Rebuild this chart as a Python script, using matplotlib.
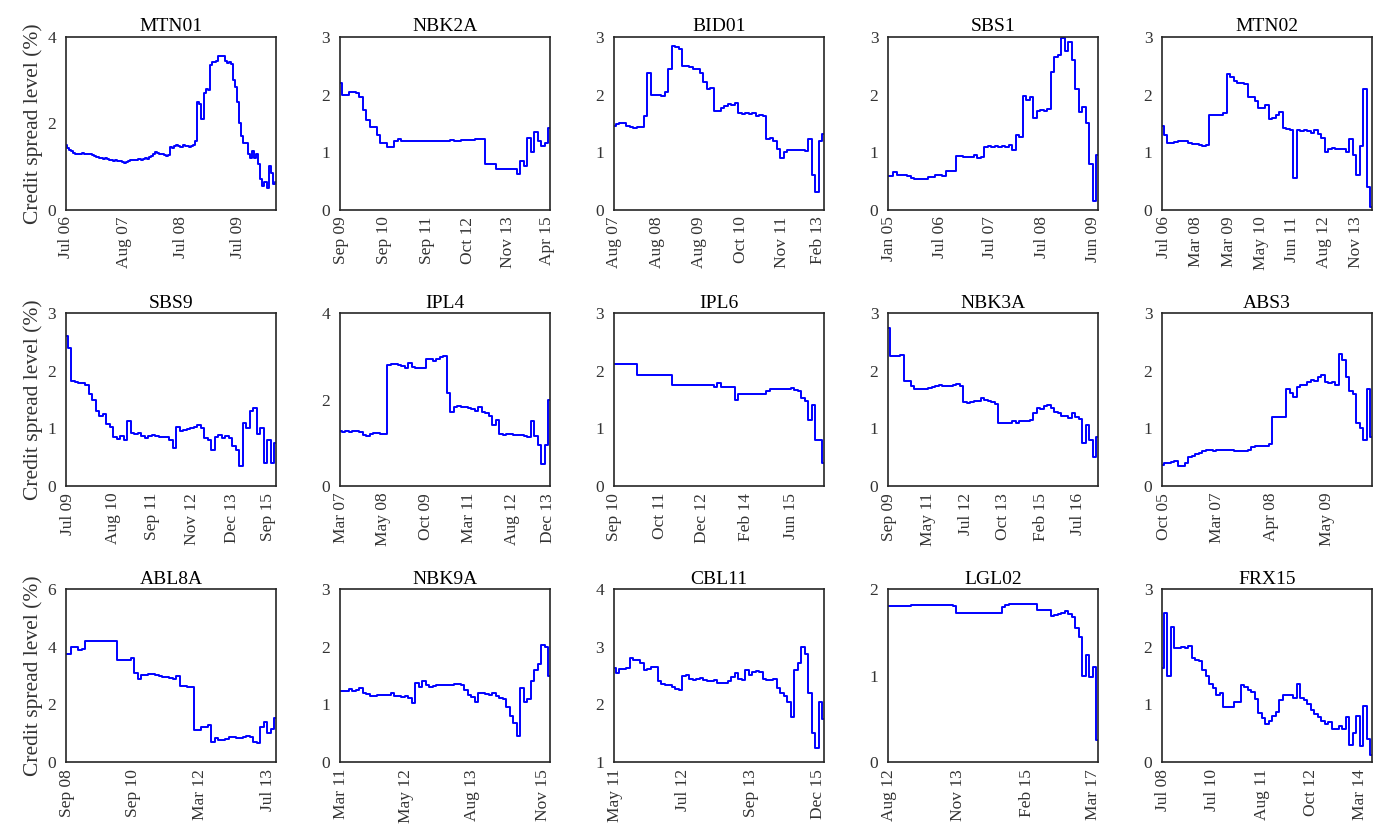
import numpy as np
import matplotlib
matplotlib.use('Agg')
import matplotlib.pyplot as plt

plt.rcParams['font.family'] = ['Liberation Serif', 'DejaVu Serif']

# bond names, one panel each (row by row)
names = ['MTN01', 'NBK2A', 'BID01', 'SBS1', 'MTN02',
         'SBS9', 'IPL4', 'IPL6', 'NBK3A', 'ABS3',
         'ABL8A', 'NBK9A', 'CBL11', 'LGL02', 'FRX15']

mtn01 = [1.5, 1.42, 1.38, 1.35, 1.32, 1.3, 1.3, 1.3, 1.31, 1.3, 1.3, 1.29, 1.28, 1.26, 1.24,
         1.22, 1.2, 1.2, 1.18, 1.2, 1.17, 1.16, 1.14, 1.13, 1.15, 1.12, 1.13, 1.1, 1.08, 1.1,
         1.12, 1.14, 1.15, 1.16, 1.15, 1.17, 1.16, 1.18, 1.2, 1.18, 1.22, 1.25, 1.3, 1.33, 1.32,
         1.3, 1.28, 1.26, 1.25, 1.27, 1.45, 1.43, 1.47, 1.5, 1.48, 1.45, 1.5, 1.47, 1.48, 1.45,
         1.48, 1.5, 1.6, 2.5, 2.45, 2.1, 2.7, 2.8, 2.78, 3.35, 3.42, 3.42, 3.45, 3.55, 3.55,
         3.55, 3.45, 3.4, 3.42, 3.38, 3.0, 2.85, 2.5, 2.0, 1.7, 1.55, 1.55, 1.3, 1.2, 1.35,
         1.2, 1.3, 1.05, 0.7, 0.55, 0.65, 0.5, 1.0, 0.85, 0.6, 0.65]
nbk2a = [2.2, 1.99, 1.99, 2.04, 2.05, 2.03, 1.95, 1.73, 1.55, 1.44, 1.43, 1.29, 1.15, 1.15, 1.08,
         1.08, 1.2, 1.22, 1.2, 1.2, 1.19, 1.2, 1.2, 1.19, 1.19, 1.2, 1.2, 1.2, 1.19, 1.2,
         1.2, 1.2, 1.21, 1.2, 1.2, 1.21, 1.21, 1.21, 1.21, 1.22, 1.22, 1.22, 0.8, 0.8, 0.79,
         0.71, 0.71, 0.71, 0.7, 0.7, 0.7, 0.62, 0.85, 0.75, 1.25, 1.0, 1.35, 1.2, 1.1, 1.15,
         1.42]
bid01 = [1.46, 1.48, 1.5, 1.5, 1.46, 1.43, 1.42, 1.43, 1.43, 1.62, 2.38, 2.0, 1.99, 1.99, 1.98,
         2.05, 2.45, 2.84, 2.83, 2.8, 2.5, 2.5, 2.48, 2.45, 2.44, 2.38, 2.22, 2.1, 2.12, 1.72,
         1.72, 1.76, 1.8, 1.84, 1.82, 1.85, 1.68, 1.66, 1.68, 1.66, 1.68, 1.62, 1.64, 1.62, 1.23,
         1.24, 1.2, 1.05, 0.9, 1.0, 1.03, 1.04, 1.03, 1.04, 1.03, 1.02, 1.22, 0.6, 0.3, 1.2,
         1.32]
sbs1 = [0.58, 0.58, 0.65, 0.6, 0.6, 0.6, 0.59, 0.55, 0.53, 0.53, 0.53, 0.54, 0.57, 0.57, 0.61,
        0.6, 0.58, 0.68, 0.68, 0.67, 0.94, 0.93, 0.92, 0.92, 0.91, 0.95, 0.89, 0.91, 1.08, 1.1,
        1.09, 1.1, 1.08, 1.1, 1.08, 1.12, 1.04, 1.3, 1.27, 1.98, 1.9, 1.96, 1.6, 1.72, 1.73,
        1.72, 1.75, 2.4, 2.65, 2.68, 2.98, 2.75, 2.92, 2.6, 2.1, 1.7, 1.78, 1.5, 0.8, 0.15,
        0.95]
mtn02 = [1.46, 1.3, 1.16, 1.15, 1.17, 1.2, 1.2, 1.19, 1.15, 1.14, 1.14, 1.13, 1.1, 1.12, 1.64,
         1.64, 1.65, 1.64, 1.68, 2.36, 2.3, 2.24, 2.2, 2.2, 2.18, 1.96, 1.95, 1.88, 1.76, 1.77,
         1.82, 1.58, 1.6, 1.65, 1.7, 1.42, 1.4, 1.38, 0.55, 1.38, 1.36, 1.38, 1.37, 1.34, 1.38,
         1.32, 1.25, 1.0, 1.06, 1.07, 1.06, 1.05, 1.05, 1.0, 1.22, 0.95, 0.6, 1.1, 2.1, 0.4,
         0.05]
sbs9 = [2.6, 2.4, 1.82, 1.8, 1.78, 1.78, 1.76, 1.6, 1.5, 1.3, 1.22, 1.25, 1.08, 1.02, 0.85,
        0.82, 0.86, 0.8, 1.12, 0.92, 0.9, 0.92, 0.86, 0.83, 0.86, 0.89, 0.86, 0.85, 0.84, 0.84,
        0.8, 0.66, 1.02, 0.95, 0.97, 0.98, 1.0, 1.03, 1.05, 1.0, 0.83, 0.8, 0.62, 0.84, 0.88,
        0.83, 0.86, 0.83, 0.7, 0.62, 0.35, 1.1, 1.0, 1.3, 1.35, 0.9, 1.0, 0.4, 0.8, 0.4,
        0.75]
ipl4 = [1.26, 1.25, 1.26, 1.25, 1.26, 1.26, 1.24, 1.18, 1.15, 1.2, 1.22, 1.22, 1.21, 1.2, 2.8,
        2.82, 2.82, 2.8, 2.78, 2.72, 2.84, 2.76, 2.74, 2.73, 2.72, 2.94, 2.94, 2.9, 2.93, 2.98,
        3.02, 2.14, 1.7, 1.83, 1.85, 1.83, 1.82, 1.8, 1.78, 1.74, 1.82, 1.7, 1.68, 1.62, 1.42,
        1.52, 1.2, 1.18, 1.2, 1.2, 1.18, 1.18, 1.17, 1.16, 1.12, 1.5, 1.15, 0.95, 0.5, 0.95,
        2.0]
ipl6 = [2.12, 2.12, 2.12, 2.12, 2.12, 2.12, 2.12, 1.93, 1.93, 1.93, 1.93, 1.92, 1.93, 1.92, 1.92,
        1.92, 1.92, 1.76, 1.76, 1.76, 1.75, 1.76, 1.76, 1.76, 1.76, 1.76, 1.76, 1.76, 1.76, 1.72,
        1.78, 1.72, 1.71, 1.71, 1.71, 1.5, 1.6, 1.6, 1.6, 1.6, 1.6, 1.6, 1.6, 1.6, 1.65,
        1.69, 1.69, 1.69, 1.69, 1.69, 1.69, 1.7, 1.67, 1.64, 1.52, 1.48, 1.15, 1.4, 0.8, 0.8,
        0.4]
nbk3a = [2.75, 2.26, 2.25, 2.25, 2.27, 1.83, 1.82, 1.73, 1.69, 1.68, 1.69, 1.69, 1.7, 1.72, 1.74,
         1.75, 1.74, 1.74, 1.73, 1.75, 1.77, 1.74, 1.46, 1.44, 1.46, 1.47, 1.48, 1.52, 1.5, 1.47,
         1.46, 1.43, 1.1, 1.09, 1.1, 1.1, 1.13, 1.1, 1.12, 1.12, 1.13, 1.14, 1.26, 1.36, 1.34,
         1.38, 1.4, 1.35, 1.28, 1.26, 1.22, 1.22, 1.18, 1.26, 1.2, 1.17, 0.75, 1.05, 0.8, 0.5,
         0.85]
abs3 = [0.37, 0.4, 0.4, 0.41, 0.43, 0.35, 0.34, 0.4, 0.5, 0.52, 0.55, 0.57, 0.6, 0.63, 0.63,
        0.6, 0.62, 0.62, 0.62, 0.62, 0.62, 0.61, 0.6, 0.6, 0.6, 0.62, 0.67, 0.7, 0.7, 0.69,
        0.69, 0.72, 1.2, 1.2, 1.2, 1.2, 1.68, 1.62, 1.55, 1.72, 1.76, 1.75, 1.8, 1.84, 1.82,
        1.9, 1.92, 1.8, 1.78, 1.8, 1.76, 2.29, 2.18, 1.9, 1.65, 1.6, 1.1, 1.0, 0.8, 1.69,
        0.85]
abl8a = [3.76, 3.76, 4.0, 4.0, 3.9, 3.92, 4.2, 4.2, 4.2, 4.19, 4.2, 4.2, 4.21, 4.2, 4.22,
         3.55, 3.55, 3.55, 3.53, 3.6, 3.1, 2.88, 3.03, 3.03, 3.05, 3.06, 3.02, 3.0, 2.95, 2.97,
         2.92, 2.88, 2.98, 2.65, 2.63, 2.62, 2.6, 1.1, 1.12, 1.22, 1.2, 1.28, 0.68, 0.82, 0.78,
         0.76, 0.8, 0.86, 0.86, 0.85, 0.84, 0.87, 0.92, 0.86, 0.68, 0.65, 1.2, 1.4, 1.0, 1.15,
         1.52]
nbk9a = [1.23, 1.23, 1.24, 1.27, 1.24, 1.25, 1.29, 1.2, 1.18, 1.15, 1.15, 1.17, 1.17, 1.16, 1.17,
         1.2, 1.14, 1.14, 1.13, 1.14, 1.12, 1.02, 1.38, 1.3, 1.4, 1.34, 1.3, 1.32, 1.33, 1.33,
         1.33, 1.33, 1.34, 1.36, 1.36, 1.34, 1.25, 1.17, 1.13, 1.05, 1.2, 1.2, 1.19, 1.17, 1.2,
         1.15, 1.12, 1.1, 0.95, 0.8, 0.68, 0.45, 1.28, 1.05, 1.1, 1.4, 1.6, 1.7, 2.03, 2.0,
         1.5]
cbl11 = [2.63, 2.55, 2.62, 2.62, 2.64, 2.8, 2.78, 2.78, 2.72, 2.6, 2.61, 2.65, 2.66, 2.4, 2.35,
         2.34, 2.33, 2.3, 2.27, 2.25, 2.5, 2.52, 2.45, 2.43, 2.45, 2.46, 2.42, 2.4, 2.4, 2.43,
         2.37, 2.37, 2.38, 2.4, 2.47, 2.55, 2.45, 2.42, 2.6, 2.52, 2.56, 2.58, 2.57, 2.45, 2.42,
         2.42, 2.44, 2.28, 2.2, 2.14, 2.05, 1.78, 2.6, 2.72, 3.0, 2.88, 2.2, 1.5, 1.25, 2.05,
         1.75]
lgl02 = [1.81, 1.81, 1.81, 1.81, 1.81, 1.81, 1.81, 1.82, 1.82, 1.82, 1.82, 1.82, 1.82, 1.82, 1.82,
         1.82, 1.82, 1.82, 1.82, 1.81, 1.73, 1.73, 1.73, 1.73, 1.73, 1.73, 1.73, 1.73, 1.73, 1.73,
         1.73, 1.73, 1.73, 1.8, 1.82, 1.83, 1.83, 1.83, 1.83, 1.83, 1.83, 1.83, 1.83, 1.76, 1.76,
         1.76, 1.76, 1.69, 1.7, 1.72, 1.73, 1.75, 1.71, 1.68, 1.55, 1.45, 1.0, 1.24, 0.98, 1.1,
         0.26]
frx15 = [1.63, 2.59, 1.5, 2.35, 1.98, 1.98, 2.0, 1.99, 2.02, 1.8, 1.78, 1.75, 1.6, 1.5, 1.35,
         1.28, 1.16, 1.2, 0.95, 0.95, 0.96, 1.04, 1.05, 1.33, 1.3, 1.26, 1.22, 1.1, 0.85, 0.76,
         0.66, 0.72, 0.8, 0.87, 1.07, 1.16, 1.17, 1.16, 1.12, 1.36, 1.12, 1.07, 1.0, 0.9, 0.84,
         0.78, 0.72, 0.66, 0.69, 0.58, 0.57, 0.63, 0.57, 0.78, 0.3, 0.5, 0.8, 0.28, 0.98, 0.4,
         0.13]

series = [mtn01, nbk2a, bid01, sbs1, mtn02,
          sbs9, ipl4, ipl6, nbk3a, abs3,
          abl8a, nbk9a, cbl11, lgl02, frx15]

# observation number at which each date label sits, and the labels
tick_obs = [[0, 27.6, 54.8, 81.9],
            [0.3, 12.6, 24.9, 36.6, 48, 59.2],
            [0, 12.2, 24.3, 36.2, 48.1, 58.3],
            [0.3, 14.9, 29.1, 44, 58.6],
            [0.6, 9.8, 19, 28.3, 37.2, 46.4, 55.4],
            [0.6, 13.4, 24.6, 36, 47.4, 57.7],
            [0.3, 12.3, 24.6, 36.9, 49.1, 59.4],
            [0, 13, 25.2, 37.6, 50.6],
            [0.3, 11.4, 22.3, 32.9, 43.7, 54.3],
            [0.6, 15.8, 31.2, 47],
            [0.3, 19.1, 38.3, 57.7],
            [0.3, 18.9, 37.7, 58],
            [0.3, 19.8, 39.1, 58.3],
            [0.3, 20, 39.7, 58.6],
            [0.3, 14.2, 28.6, 42.7, 56.5]]
tick_dates = [['Jul 06', 'Aug 07', 'Jul 08', 'Jul 09'],
              ['Sep 09', 'Sep 10', 'Sep 11', 'Oct 12', 'Nov 13', 'Apr 15'],
              ['Aug 07', 'Aug 08', 'Aug 09', 'Oct 10', 'Nov 11', 'Feb 13'],
              ['Jan 05', 'Jul 06', 'Jul 07', 'Jul 08', 'Jun 09'],
              ['Jul 06', 'Mar 08', 'Mar 09', 'May 10', 'Jun 11', 'Aug 12', 'Nov 13'],
              ['Jul 09', 'Aug 10', 'Sep 11', 'Nov 12', 'Dec 13', 'Sep 15'],
              ['Mar 07', 'May 08', 'Oct 09', 'Mar 11', 'Aug 12', 'Dec 13'],
              ['Sep 10', 'Oct 11', 'Dec 12', 'Feb 14', 'Jun 15'],
              ['Sep 09', 'May 11', 'Jul 12', 'Oct 13', 'Feb 15', 'Jul 16'],
              ['Oct 05', 'Mar 07', 'Apr 08', 'May 09'],
              ['Sep 08', 'Sep 10', 'Mar 12', 'Jul 13'],
              ['Mar 11', 'May 12', 'Aug 13', 'Nov 15'],
              ['May 11', 'Jul 12', 'Sep 13', 'Dec 15'],
              ['Aug 12', 'Nov 13', 'Feb 15', 'Mar 17'],
              ['Jul 08', 'Jul 10', 'Aug 11', 'Oct 12', 'Mar 14']]

y_ticks = [[0, 2, 4], [0, 1, 2, 3], [0, 1, 2, 3], [0, 1, 2, 3], [0, 1, 2, 3],
           [0, 1, 2, 3], [0, 2, 4], [0, 1, 2, 3], [0, 1, 2, 3], [0, 1, 2, 3],
           [0, 2, 4, 6], [0, 1, 2, 3], [1, 2, 3, 4], [0, 1, 2], [0, 1, 2, 3]]

fig = plt.figure(figsize=(13.81, 8.30), dpi=100)
axes = fig.subplots(3, 5)
fig.subplots_adjust(left=0.0478, right=0.9935, top=0.9554, bottom=0.0819,
                    wspace=0.305, hspace=0.6)

for k, ax in enumerate(axes.flat):
    vals = series[k]
    # spreads move in jumps, so draw as steps
    ax.plot(np.arange(len(vals)), vals, color='#0000ff', lw=1.4, drawstyle='steps-mid')
    ax.set_xlim(0, len(vals) - 1)
    ax.set_ylim(y_ticks[k][0], y_ticks[k][-1])
    ax.set_yticks(y_ticks[k])
    ax.set_xticks(tick_obs[k])
    ax.set_xticklabels(tick_dates[k], rotation=90)
    ax.tick_params(length=0, labelsize=12.5, labelcolor='#333333')
    ax.tick_params(axis='y', pad=7)
    ax.tick_params(axis='x', pad=5)
    for sp in ax.spines.values():
        sp.set_color('#262626')
        sp.set_linewidth(1.2)
    ax.set_title(names[k], fontsize=14, pad=4)
    if k % 5 == 0:
        ax.set_ylabel('Credit spread level (%)', fontsize=15.5, color='#333333', labelpad=3)

fig.savefig('out.png', dpi=100)
